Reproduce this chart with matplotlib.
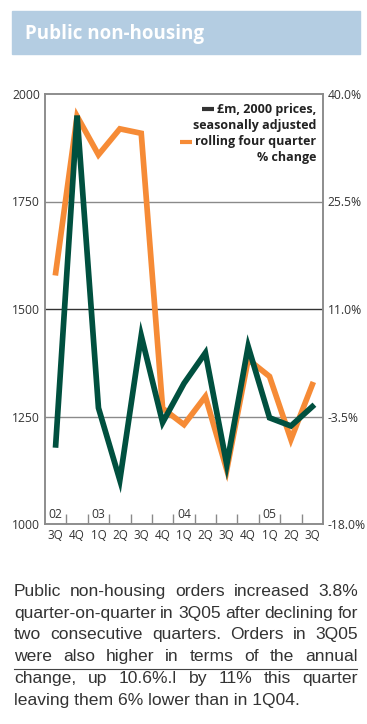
#!/usr/bin/env python3
"""Public non-housing orders: level and rolling four quarter change."""

import matplotlib.pyplot as plt
from matplotlib.lines import Line2D
from matplotlib.patches import Rectangle
from matplotlib.ticker import FixedLocator, FuncFormatter

W, H = 367, 724

quarters = ["3Q", "4Q", "1Q", "2Q", "3Q", "4Q", "1Q", "2Q", "3Q", "4Q", "1Q", "2Q", "3Q"]
years = {0: "02", 2: "03", 6: "04", 10: "05"}

# £m, 2000 prices, seasonally adjusted
orders = [1184, 1950, 1270, 1102, 1438, 1236, 1327, 1398, 1138, 1413, 1247, 1228, 1273]
# rolling four quarter % change
pct_change = [15.9, 37.0, 31.8, 35.3, 34.7, -2.4, -4.6, -0.8, -10.7, 4.2, 1.9, -6.6, 0.8]

left_ticks = [1000, 1250, 1500, 1750, 2000]
right_ticks = [-18.0, -3.5, 11.0, 25.5, 40.0]

body = [
    "Public non-housing orders increased 3.8%",
    "quarter-on-quarter in 3Q05 after declining for",
    "two consecutive quarters. Orders in 3Q05",
    "were also higher in terms of the annual",
    "change, up 10.6%.l by 11% this quarter",
    "leaving them 6% lower than in 1Q04.",
]

GREEN = "#00503f"
ORANGE = "#f68b36"
FRAME = "#8a8a8a"
TXT = "#333333"
CHART_FONT = "Open Sans"

fig = plt.figure(figsize=(W / 100, H / 100), dpi=100)


def fx(px):
    return px / W


def fy(py):
    return 1 - py / H


# header band
fig.patches.append(Rectangle((fx(12), fy(54)), fx(348), 43 / H,
                             transform=fig.transFigure, color="#b4cde2", zorder=0))
fig.text(fx(25), fy(39.5), "Public non-housing", color="white", fontsize=13.5,
         fontweight="bold", family=CHART_FONT, va="baseline", ha="left")

# axes: right axis (orange, grid) underneath, left axis (green) on top
ax2 = fig.add_axes([fx(45), fy(524), 278 / W, 430 / H])
ax = ax2.twinx()
ax.yaxis.tick_left()
ax2.yaxis.tick_right()
ax.set_zorder(ax2.get_zorder() + 1)
ax.patch.set_visible(False)

x = range(len(quarters))
ax2.plot(x, pct_change, color=ORANGE, lw=4.1, solid_joinstyle="miter", zorder=3)
ax.plot(x, orders, color=GREEN, lw=4.1, solid_joinstyle="miter", zorder=3)

ax.set_xlim(-0.5, len(quarters) - 0.5)
ax.set_ylim(left_ticks[0], left_ticks[-1])
ax2.set_ylim(right_ticks[0], right_ticks[-1])

ax.set_yticks(left_ticks)
ax2.set_yticks(right_ticks)
ax2.yaxis.set_major_formatter(FuncFormatter(lambda v, _: f"{v:.1f}%"))
for a in (ax, ax2):
    a.tick_params(axis="y", length=0, labelsize=8.7, labelcolor=TXT, pad=3.5)
    for label in a.get_yticklabels():
        label.set_family(CHART_FONT)
    for s in a.spines.values():
        s.set_color(FRAME)
        s.set_linewidth(1.1)

# horizontal grid lines, drawn on the lower axis so the series sit above them
for v in right_ticks[1:-1]:
    ax2.axhline(v, color="#333333" if v == 11.0 else "#8a8a8a", lw=1.0, zorder=1)

# x axis: boundary ticks inside, quarter labels below
ax2.xaxis.set_major_locator(FixedLocator([i + 0.5 for i in range(len(quarters) - 1)]))
ax2.xaxis.set_minor_locator(FixedLocator(list(x)))
ax2.tick_params(axis="x", which="major", direction="in", length=7, width=1.0,
                color=FRAME, labelbottom=False)
ax2.tick_params(axis="x", which="minor", length=0, labelsize=8.4, labelcolor=TXT, pad=3.5)
ax2.set_xticklabels(quarters, minor=True, family=CHART_FONT)
ax.tick_params(axis="x", length=0, labelbottom=False)

for i, yr in years.items():
    ax2.annotate(yr, xy=(i, 0), xycoords=("data", "axes fraction"), xytext=(0, 2.5),
                 textcoords="offset points", ha="center", va="bottom",
                 fontsize=8.7, color=TXT, family=CHART_FONT)

# legend as right-aligned text with small bars
legend_lines = [("£m, 2000 prices,", 113.3), ("seasonally adjusted", 129.3),
                ("rolling four quarter", 145.3), ("% change", 161.5)]
leg_texts = [fig.text(fx(316), fy(yb), t, ha="right", va="baseline", fontsize=9,
                      fontweight="bold", color="#222222", family=CHART_FONT)
             for t, yb in legend_lines]

fig.canvas.draw()
renderer = fig.canvas.get_renderer()
for txt, yc, col in ((leg_texts[0], 108.5, "#333333"), (leg_texts[2], 141.5, ORANGE)):
    x0 = txt.get_window_extent(renderer).x0
    fig.add_artist(Line2D([fx(x0 - 15), fx(x0 - 3)], [fy(yc), fy(yc)], lw=3.0,
                          color=col, solid_capstyle="butt", transform=fig.transFigure))

# justified commentary text
BODY_L, BODY_R = 14, 358
body_size = 12.6
for n, line in enumerate(body):
    base = 596 + n * 21.7
    words = line.split(" ")
    if n == len(body) - 1:
        fig.text(fx(BODY_L), fy(base), line, fontsize=body_size, color=TXT,
                 family="Liberation Sans", va="baseline", ha="left")
        continue
    arts = [fig.text(0, 0, w, fontsize=body_size, color=TXT, family="Liberation Sans",
                     va="baseline", ha="left") for w in words]
    widths = [a.get_window_extent(renderer).width for a in arts]
    gap = (BODY_R - BODY_L - sum(widths)) / (len(words) - 1)
    pos = BODY_L
    for a, w in zip(arts, widths):
        a.set_position((fx(pos), fy(base)))
        pos += w + gap

# stray rule through the fifth line, as in the source
fig.add_artist(Line2D([fx(14), fx(357)], [fy(669), fy(669)], lw=0.8, color="#444444",
                      transform=fig.transFigure))

fig.savefig("out.png", dpi=100)
